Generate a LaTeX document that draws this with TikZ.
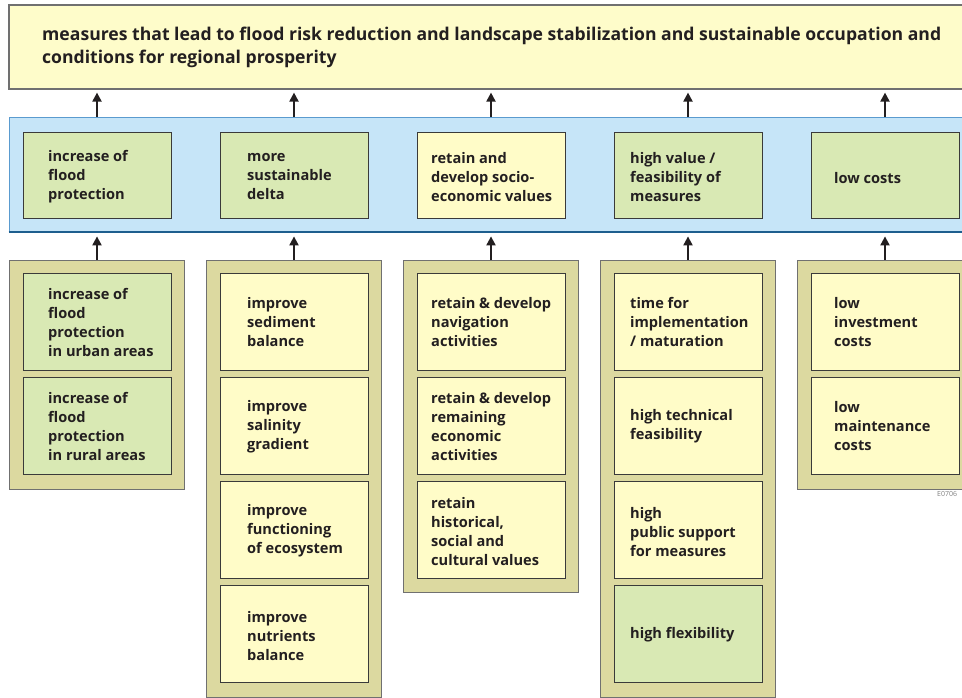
\documentclass[tikz,border=0pt]{standalone}
\usepackage{fontspec}
\setmainfont{Open Sans}
\usetikzlibrary{arrows.meta}
\definecolor{bannerfill}{HTML}{FEFCCA}
\definecolor{bandfill}{HTML}{C6E5F8}
\definecolor{bandline}{HTML}{5A9BCF}
\definecolor{banddark}{HTML}{1D5E8E}
\definecolor{grn}{HTML}{D9E9B4}
\definecolor{yel}{HTML}{FFFCC8}
\definecolor{khaki}{HTML}{DCD9A0}
\definecolor{outline}{HTML}{707070}
\definecolor{boxline}{HTML}{3A3A3A}
\definecolor{ink}{HTML}{231F20}
\tikzset{
  box/.style={draw=boxline, line width=1pt, minimum width=148pt, minimum height=97pt, inner sep=0pt},
  gbox/.style={box, fill=grn},
  ybox/.style={box, fill=yel},
  topbox/.style={minimum height=86pt},
  txt/.style={anchor=west, align=left, font=\fontsize{14.6}{19}\selectfont\bfseries, text=ink, inner sep=0pt, yshift=-1pt},
  outer/.style={draw=outline, fill=khaki, line width=1pt, minimum width=175pt, inner sep=0pt},
  arr/.style={-{Triangle[width=9pt,length=9pt]}, line width=2pt, draw=ink},
}
\begin{document}
\begin{tikzpicture}[x=1pt,y=-1pt]
\useasboundingbox (0,0) rectangle (962,698);
\clip (0,0) rectangle (962,698);
\fill[white] (0,0) rectangle (962,698);
% banner
\node[draw=outline, fill=bannerfill, line width=1.2pt, minimum width=966pt, minimum height=84pt, inner sep=0pt] (banner) at (492,47) {};
\node[anchor=west, align=left, font=\fontsize{17.6}{23}\selectfont\bfseries, text=ink, inner sep=0pt] (bannertxt) at (42,47.5)
 {measures that lead to flood risk reduction and landscape stabilization and sustainable occupation and\\conditions for regional prosperity};
% band
\node[draw=bandline, fill=bandfill, line width=0.8pt, minimum width=966pt, minimum height=115pt, inner sep=0pt] (band) at (492,174.5) {};
\draw[banddark, line width=2pt] (band.south west) -- (band.south east);
% band boxes
\node[gbox, topbox] (b1) at (97,176) {};
\node[txt] at (48,176) {increase of\\flood\\protection};
\node[gbox, topbox] (b2) at (294,176) {};
\node[txt] at (247,176) {more\\sustainable\\delta};
\node[ybox, topbox] (b3) at (491,176) {};
\node[txt] at (431,176) {retain and\\develop socio-\\economic values};
\node[gbox, topbox] (b4) at (688,176) {};
\node[txt] at (630,176) {high value /\\feasibility of\\measures};
\node[gbox, topbox] (b5) at (885,176) {};
\node[txt] at (834,177) {low costs};
% arrows band -> banner
\foreach \b in {b1,b2,b3,b4,b5}
  \draw[arr, shorten >=3pt] (band.north -| \b) -- (banner.south -| \b);
% columns
\node[outer, minimum height=229pt] (col1) at (96.5,374.5) {};
\node[outer, minimum height=437pt] (col2) at (293.5,478.5) {};
\node[outer, minimum height=332pt] (col3) at (490.5,426) {};
\node[outer, minimum height=437pt] (col4) at (687.5,478.5) {};
\node[outer, minimum height=229pt] (col5) at (884.5,374.5) {};
\foreach \c/\b in {col1/b1,col2/b2,col3/b3,col4/b4,col5/b5}
  \draw[arr, shorten >=4pt] (\c.north -| \b) -- (band.south -| \b);
% column 1
\node[gbox] (c1a) at (97,321.5) {};
\node[txt] at (48,321.5) {increase of\\flood\\protection\\in urban areas};
\node[gbox] (c1b) at (97,425.5) {};
\node[txt] at (48,425.5) {increase of\\flood\\protection\\in rural areas};
% column 2
\node[ybox] (c2a) at (294,321.5) {};
\node[txt] at (247,321.5) {improve\\sediment\\balance};
\node[ybox] (c2b) at (294,425.5) {};
\node[txt] at (247,425.5) {improve\\salinity\\gradient};
\node[ybox] (c2c) at (294,529.5) {};
\node[txt] at (247,529.5) {improve\\functioning\\of ecosystem};
\node[ybox] (c2d) at (294,633.5) {};
\node[txt] at (247,635) {improve\\nutrients\\balance};
% column 3
\node[ybox] (c3a) at (491,321.5) {};
\node[txt] at (431,321.5) {retain \& develop\\navigation\\activities};
\node[ybox] (c3b) at (491,425.5) {};
\node[txt] at (431,425.5) {retain \& develop\\remaining\\economic\\activities};
\node[ybox] (c3c) at (491,529.5) {};
\node[txt] at (431,531) {retain\\historical,\\social and\\cultural values};
% column 4
\node[ybox] (c4a) at (688,321.5) {};
\node[txt] at (630,321) {time for\\implementation\\/ maturation};
\node[ybox] (c4b) at (688,425.5) {};
\node[txt] at (630,425) {high technical\\feasibility};
\node[ybox] (c4c) at (688,529.5) {};
\node[txt] at (630,531) {high\\public support\\for measures};
\node[gbox] (c4d) at (688,633.5) {};
\node[txt] at (630,634) {high flexibility};
% column 5
\node[ybox] (c5a) at (885,321.5) {};
\node[txt] at (834,321) {low\\investment\\costs};
\node[ybox] (c5b) at (885,425.5) {};
\node[txt] at (834,425) {low\\maintenance\\costs};
% code
\node[anchor=west, inner sep=0pt, font=\fontsize{7}{8}\selectfont, text=gray] (code) at (937,494) {E0706};
\end{tikzpicture}
\end{document}
